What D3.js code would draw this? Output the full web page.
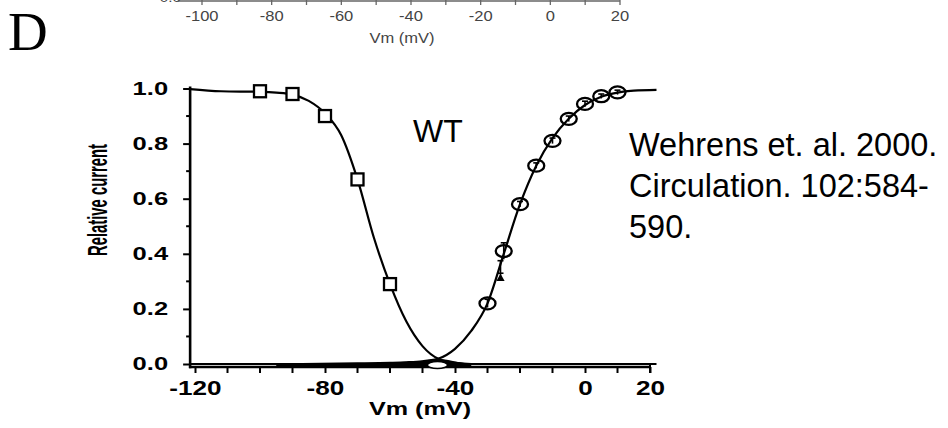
<!DOCTYPE html>
<html><head><meta charset="utf-8">
<script src="https://cdn.jsdelivr.net/npm/d3@7"></script>
<style>html,body{margin:0;padding:0;background:#fff;} svg{display:block}</style>
</head><body><svg id="c" width="948" height="428"></svg>
<script>
// ---------- data ----------
const inactVm  = [-100, -90, -80, -70, -60];
const inactVal = [0.99, 0.98, 0.90, 0.67, 0.29];

const actVm  = [-30, -25, -20, -15, -10, -5, 0, 5, 10];
const actVal = [0.22, 0.41, 0.58, 0.72, 0.81, 0.89, 0.944, 0.972, 0.986];
const actErr = [0.015, 0.03, 0.01, 0.01, 0.01, 0.01, 0.01, 0.008, 0.008];

const mutVm  = [-26];
const mutVal = [0.31];
const mutErr = [0.065];

const inactFitVm  = [-121.5, -112, -100, -95, -90, -85, -80, -75, -70, -65, -60, -55, -50, -45, -40, -35, -30, 0, 22];
const inactFitVal = [0.998, 0.99, 0.988, 0.985, 0.978, 0.955, 0.91, 0.83, 0.67, 0.46, 0.29, 0.155, 0.065, 0.018, 0.004, 0, 0, 0, 0];

const actFitVm  = [-121.5, -90, -70, -60, -55, -50, -45, -40, -35, -30, -25, -20, -15, -10, -5, 0, 5, 10, 15, 22];
const actFitVal = [0, 0, 0.002, 0.004, 0.006, 0.01, 0.02, 0.055, 0.12, 0.22, 0.40, 0.58, 0.72, 0.82, 0.89, 0.94, 0.97, 0.985, 0.992, 0.995];

const windowVm  = [-95, -75, -65, -55, -50, -47, -44, -41, -38, -35];
const windowVal = [0, 0.002, 0.004, 0.008, 0.012, 0.016, 0.017, 0.012, 0.005, 0];
const windowMarkVm = -45.4;

const xTicks = [-120, -80, -40, 0, 20];
const xMinor = [-110, -100, -90, -70, -60, -50, -30, -20, -10, 10];
const yTicks = [0, 0.2, 0.4, 0.6, 0.8, 1.0];
const yMinor = [0.1, 0.3, 0.5, 0.7, 0.9];

const topTicks = [-100, -80, -60, -40, -20, 0, 20];
const topMinor = [-90, -70, -50, -30, -10, 10];

// ---------- drawing ----------
const svg = d3.select("#c");
const x = d3.scaleLinear().domain([-120, 20]).range([195, 650]);
const y = d3.scaleLinear().domain([0, 1]).range([364, 88.5]);
const axisY = y(0) + 3;
const spineX = x(-121.5);
const FONT = "Liberation Sans, Arial, sans-serif";
const hyphen = d => String(d);

function stretch(sel, sx) {
  sel.each(function() {
    const t = d3.select(this);
    const tx = +t.attr("x") || 0;
    t.attr("x", 0).attr("transform", `translate(${tx},0) scale(${sx},1)`);
  });
}

// top strip: remnant of previous panel's axis
const xt = d3.scaleLinear().domain([-100, 20]).range([202, 620]);
const topG = svg.append("g").attr("fill", "#444").attr("font-family", FONT);
topG.append("line").attr("x1", xt(-107)).attr("x2", xt(20)).attr("y1", 1).attr("y2", 1)
  .attr("stroke", "#666").attr("stroke-width", 1.3);
topG.selectAll("line.tk").data(topTicks.concat(topMinor)).join("line").attr("class", "tk")
  .attr("x1", d => xt(d)).attr("x2", d => xt(d)).attr("y1", 0).attr("y2", 5)
  .attr("stroke", "#666").attr("stroke-width", 1.3);
topG.selectAll("text.tl").data(topTicks).join("text").attr("class", "tl")
  .attr("x", d => xt(d)).attr("y", 21).attr("text-anchor", "middle")
  .attr("font-size", 14).text(hyphen).call(stretch, 1.18);
topG.append("text").attr("x", 402).attr("y", 43).attr("text-anchor", "middle")
  .attr("font-size", 14).text("Vm (mV)").call(stretch, 1.18);
topG.append("text").attr("x", 181).attr("y", 2).attr("text-anchor", "end")
  .attr("font-size", 13).text("0.0").call(stretch, 1.18);

// panel letter
svg.append("text").attr("x", 8).attr("y", 50).attr("font-family", "Liberation Serif, Times New Roman, serif")
  .attr("font-size", 55).text("D");

// window-current blob near the axis
svg.append("path")
  .datum(windowVm.map((v, i) => [v, windowVal[i]]))
  .attr("d", d3.area().x(d => x(d[0])).y0(axisY).y1(d => y(d[1])).curve(d3.curveMonotoneX))
  .attr("fill", "#000");

// fitted curves
const line = d3.line().x(d => x(d[0])).y(d => y(d[1])).curve(d3.curveMonotoneX);
svg.append("path").datum(inactFitVm.map((v, i) => [v, inactFitVal[i]]))
  .attr("d", line).attr("fill", "none").attr("stroke", "#000").attr("stroke-width", 2.2);
svg.append("path").datum(actFitVm.map((v, i) => [v, actFitVal[i]]))
  .attr("d", line).attr("fill", "none").attr("stroke", "#000").attr("stroke-width", 2.2);

// axes
const gy = svg.append("g").attr("transform", `translate(${spineX},0)`);
gy.call(d3.axisLeft(y).tickValues(yTicks).tickSize(7).tickFormat(d3.format(".1f")));
gy.select(".domain").remove();
gy.selectAll(".tick line").attr("stroke", "#000").attr("stroke-width", 2);
gy.selectAll(".tick text").attr("x", -22).attr("font-family", FONT)
  .attr("font-weight", "bold").attr("font-size", 18).attr("fill", "#000").call(stretch, 1.42);
gy.selectAll("line.minor").data(yMinor).join("line").attr("class", "minor")
  .attr("x1", -4).attr("x2", 0).attr("y1", d => y(d)).attr("y2", d => y(d))
  .attr("stroke", "#000").attr("stroke-width", 2);

const gx = svg.append("g").attr("transform", `translate(0,${axisY})`);
gx.call(d3.axisBottom(x).tickValues(xTicks).tickSize(6).tickFormat(hyphen));
gx.select(".domain").remove();
gx.selectAll(".tick line").attr("stroke", "#000").attr("stroke-width", 2);
gx.selectAll(".tick text").attr("y", 28.5).attr("dy", 0).attr("font-family", FONT)
  .attr("font-weight", "bold").attr("font-size", 19.5).attr("fill", "#000").call(stretch, 1.34);
gx.selectAll("line.minor").data(xMinor).join("line").attr("class", "minor")
  .attr("x1", d => x(d)).attr("x2", d => x(d)).attr("y1", 0).attr("y2", 6)
  .attr("stroke", "#000").attr("stroke-width", 2);

// spines
svg.append("line").attr("x1", spineX).attr("x2", spineX).attr("y1", y(1) - 2).attr("y2", axisY + 1.2)
  .attr("stroke", "#000").attr("stroke-width", 2.6);
svg.append("line").attr("x1", spineX - 1.2).attr("x2", x(20)).attr("y1", axisY).attr("y2", axisY)
  .attr("stroke", "#000").attr("stroke-width", 2.6);
svg.append("line").attr("x1", x(20)).attr("x2", x(20)).attr("y1", axisY - 3).attr("y2", axisY + 6)
  .attr("stroke", "#000").attr("stroke-width", 2);

// white marker on the axis
svg.append("ellipse").attr("cx", x(windowMarkVm)).attr("cy", axisY - 2).attr("rx", 10).attr("ry", 3.5)
  .attr("fill", "#fff").attr("stroke", "#000").attr("stroke-width", 1.4);

// error bars (activation)
const eb = svg.append("g").attr("stroke", "#000").attr("stroke-width", 1.6);
actVm.forEach((v, i) => {
  eb.append("line").attr("x1", x(v)).attr("x2", x(v)).attr("y1", y(actVal[i] - actErr[i])).attr("y2", y(actVal[i] + actErr[i]));
  eb.append("line").attr("x1", x(v) - 3).attr("x2", x(v) + 3).attr("y1", y(actVal[i] + actErr[i])).attr("y2", y(actVal[i] + actErr[i]));
});
mutVm.forEach((v, i) => {
  eb.append("line").attr("x1", x(v)).attr("x2", x(v)).attr("y1", y(mutVal[i])).attr("y2", y(mutVal[i] + mutErr[i]));
  eb.append("line").attr("x1", x(v) - 3).attr("x2", x(v) + 3).attr("y1", y(mutVal[i] + mutErr[i])).attr("y2", y(mutVal[i] + mutErr[i]));
  eb.append("line").attr("x1", x(v) - 3).attr("x2", x(v) + 3).attr("y1", y(mutVal[i] + mutErr[i] * 0.3)).attr("y2", y(mutVal[i] + mutErr[i] * 0.3));
});
svg.selectAll("path.mut").data(mutVm).join("path").attr("class", "mut")
  .attr("d", d3.symbol(d3.symbolTriangle, 30))
  .attr("transform", (d, i) => `translate(${x(d)},${y(mutVal[i])})`).attr("fill", "#000");

// markers
svg.selectAll("rect.sq").data(inactVm).join("rect").attr("class", "sq")
  .attr("x", d => x(d) - 6).attr("y", (d, i) => y(inactVal[i]) - 6).attr("width", 12).attr("height", 12)
  .attr("fill", "#fff").attr("stroke", "#000").attr("stroke-width", 2.3);
svg.selectAll("ellipse.ci").data(actVm).join("ellipse").attr("class", "ci")
  .attr("cx", d => x(d)).attr("cy", (d, i) => y(actVal[i])).attr("rx", 8).attr("ry", 6)
  .attr("fill", "none").attr("stroke", "#000").attr("stroke-width", 2.3);

// axis titles
svg.append("text").attr("x", 420).attr("y", 415).attr("text-anchor", "middle")
  .attr("font-family", FONT).attr("font-weight", "bold").attr("font-size", 18)
  .text("Vm (mV)").call(stretch, 1.4);
svg.append("text").attr("transform", "translate(107,200) rotate(-90) scale(1,1.7)")
  .attr("text-anchor", "middle").attr("font-family", FONT).attr("font-weight", "bold")
  .attr("font-size", 16.5).attr("textLength", 112).attr("lengthAdjust", "spacingAndGlyphs")
  .text("Relative current");

// annotations
const ann = svg.append("g").attr("font-family", FONT).attr("fill", "#000");
ann.append("text").attr("x", 413).attr("y", 142).attr("font-size", 32).text("WT");
const cite = ["Wehrens et. al. 2000.", "Circulation. 102:584-", "590."];
ann.selectAll("text.cite").data(cite).join("text").attr("class", "cite")
  .attr("x", 629).attr("y", (d, i) => 156 + i * 41).attr("font-size", 32.5).text(d => d);
</script></body></html>
